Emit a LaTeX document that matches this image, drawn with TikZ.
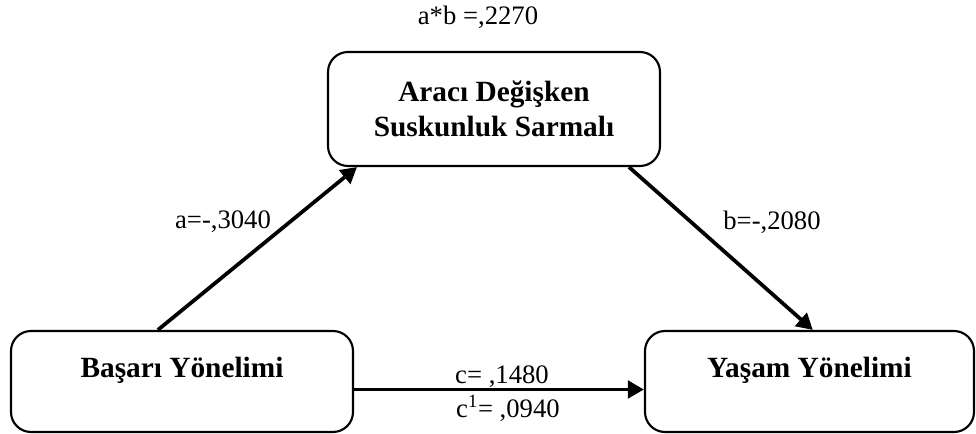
\documentclass[tikz,border=0pt]{standalone}
\usepackage{fontspec}
\setmainfont{Liberation Serif}
\usetikzlibrary{calc,arrows.meta}

\begin{document}
\begin{tikzpicture}[x=0.75pt,y=-0.75pt,
    varbox/.style={draw,line width=1.6pt,rounded corners=15pt,align=center,
      font=\fontsize{22}{26}\selectfont\bfseries},
    lowbox/.style={varbox,minimum height=75.75pt,text height=16pt,text depth=22pt},
    effect/.style={line width=2.8pt,-{Triangle[length=12pt,width=13pt]}},
    coef/.style={font=\fontsize{20}{24}\selectfont,inner sep=0pt}]
  \useasboundingbox (0,0) rectangle (976,434);

  \node[varbox,minimum width=249pt,minimum height=85.5pt] (araci) at (494,109)
    {Aracı Değişken\\Suskunluk Sarmalı};
  \node[lowbox,minimum width=256.5pt] (basari) at (182,381.5) {Başarı Yönelimi};
  \node[lowbox,minimum width=246.75pt] (yasam) at (809.5,381.5) {Yaşam Yönelimi};

  \draw[effect] ($(basari.north west)!0.43!(basari.north east)$)
    -- ($(araci.south west)!0.09!(araci.south east)$);
  \draw[effect] ($(araci.south west)!0.904!(araci.south east)$)
    -- ($(yasam.north west)!0.51!(yasam.north east)$);
  \draw[effect] ($(basari.east)+(0,8)$) -- ($(yasam.west)+(0,8)$);

  \node[coef] (ab) at (478,17) {a*b =,2270};
  \node[coef] (a) at (223,222) {a=-,3040};
  \node[coef] (b) at (772,222) {b=-,2080};
  \node[coef] (c) at (502,377) {c= ,1480};
  \node[coef] (c1) at (508,408) {c\textsuperscript{1}= ,0940};
\end{tikzpicture}
\end{document}
